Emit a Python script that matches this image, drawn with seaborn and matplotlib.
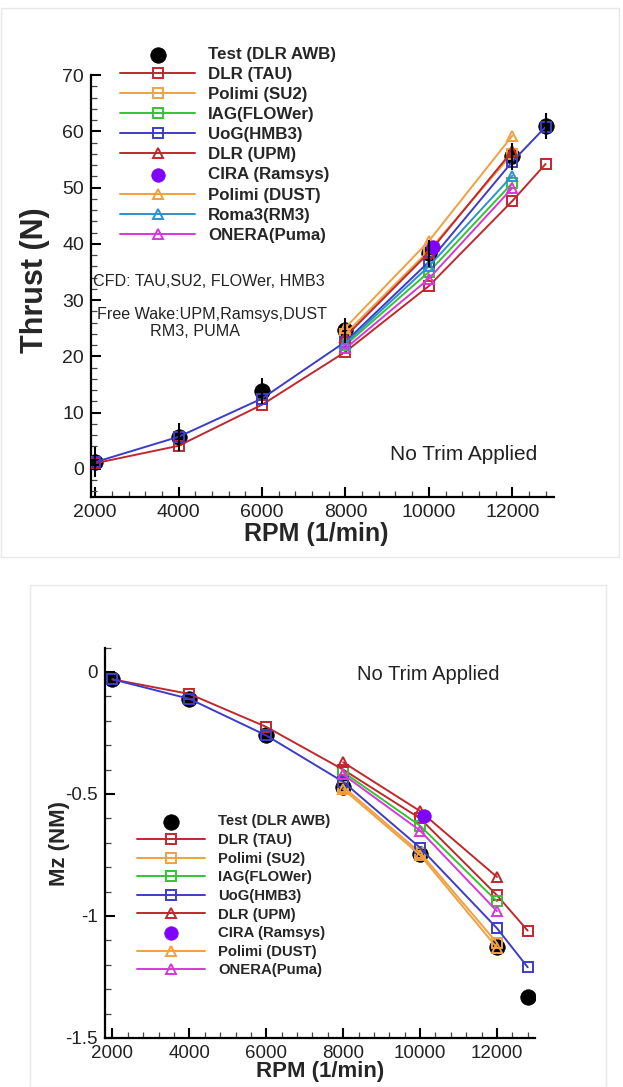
import numpy as np
import pandas as pd
import matplotlib
matplotlib.use("Agg")
import matplotlib.pyplot as plt
import seaborn as sns
from matplotlib.ticker import MultipleLocator, FixedLocator
from matplotlib.patches import Rectangle

# ---------------- data ----------------
rpm_all = [2000, 4000, 6000, 8000, 10000, 12000, 12800]
rpm_hi = [8000, 10000, 12000]
rpm_cira = [10100]

# Thrust (N)
thrust_test = [1.2, 5.7, 13.9, 24.6, 38.3, 55.6, 60.9]
thrust_test_err = [2.6, 2.5, 2.3, 2.2, 2.4, 2.4, 2.3]
thrust_tau = [1.0, 4.1, 11.4, 20.8, 32.5, 47.6, 54.2]
thrust_su2 = [24.0, 38.8, 56.0]
thrust_iag = [22.0, 35.0, 50.8]
thrust_uog = [1.2, 5.7, 12.5, 22.6, 36.8, 54.6, 60.8]
thrust_upm = [23.5, 38.4, 56.5]
thrust_cira = [39.5]
thrust_dust = [25.1, 40.5, 59.2]
thrust_rm3 = [22.3, 36.0, 52.1]
thrust_onera = [21.4, 33.8, 49.9]

# Mz (NM)
mz_test = [-0.03, -0.11, -0.26, -0.47, -0.745, -1.125, -1.33]
mz_tau = [-0.03, -0.09, -0.225, -0.40, -0.60, -0.915, -1.06]
mz_su2 = [-0.47, -0.74, -1.11]
mz_iag = [-0.41, -0.63, -0.94]
mz_uog = [-0.03, -0.11, -0.26, -0.45, -0.72, -1.05, -1.21]
mz_upm = [-0.37, -0.57, -0.84]
mz_cira = [-0.59]
mz_dust = [-0.48, -0.75, -1.13]
mz_onera = [-0.42, -0.65, -0.98]

labels_top = ["Test (DLR AWB)", "DLR (TAU)", "Polimi (SU2)", "IAG(FLOWer)", "UoG(HMB3)",
              "DLR (UPM)", "CIRA (Ramsys)", "Polimi (DUST)", "Roma3(RM3)", "ONERA(Puma)"]
labels_bot = ["Test (DLR AWB)", "DLR (TAU)", "Polimi (SU2)", "IAG(FLOWer)", "UoG(HMB3)",
              "DLR (UPM)", "CIRA (Ramsys)", "Polimi (DUST)", "ONERA(Puma)"]
xtick_vals = [2000, 4000, 6000, 8000, 10000, 12000]

C_DLR = "#c0282e"
C_POL = "#f0a040"
C_IAG = "#33c433"
C_UOG = "#3c3cc8"
C_CIRA = "#8000ff"
C_RM3 = "#2a92d0"
C_ONE = "#d838d8"

# ---------------- style ----------------
sns.set_style("ticks")
plt.rcParams["font.family"] = ["Liberation Sans", "DejaVu Sans"]

W, H = 623, 1087
fig = plt.figure(figsize=(W / 100, H / 100), dpi=100)
fig.patch.set_facecolor("white")


def rect(l, r, t, b):
    return [l / W, 1 - b / H, (r - l) / W, (b - t) / H]


# faint panel frames
fig.add_artist(Rectangle((1 / W, 1 - 557 / H), 618 / W, 549 / H, transform=fig.transFigure,
                         fill=False, edgecolor="#e8e8e8", linewidth=1))
fig.add_artist(Rectangle((30 / W, 0), 576 / W, 1 - 585 / H, transform=fig.transFigure,
                         fill=False, edgecolor="#e8e8e8", linewidth=1))

ax1 = fig.add_axes(rect(91, 554, 75, 497))
ax2 = fig.add_axes(rect(104.8, 535.4, 647.6, 1038))


def series(ax, x, y, color, marker, label):
    sns.lineplot(x=x, y=y, ax=ax, color=color, marker=marker, markersize=7,
                 markerfacecolor="none", markeredgecolor=color, markeredgewidth=1.4,
                 linewidth=1.4, sort=False, errorbar=None, legend=False, zorder=3)
    ln = ax.lines[-1]
    ln.set_label(label)
    return ln


def dots(ax, x, y, color, size, label, z=2):
    sns.scatterplot(x=x, y=y, ax=ax, color=color, s=size, edgecolor=color,
                    linewidth=0.5, legend=False, zorder=z)
    pc = ax.collections[-1]
    pc.set_label(label)
    return pc


# ---------------- top: thrust ----------------
h = []
h.append(dots(ax1, rpm_all, thrust_test, "black", 125, labels_top[0]))
ax1.errorbar(rpm_all, thrust_test, yerr=thrust_test_err, fmt="none", ecolor="black",
             elinewidth=1.5, capsize=0, zorder=5)
h.append(series(ax1, rpm_all, thrust_tau, C_DLR, "s", labels_top[1]))
h.append(series(ax1, rpm_hi, thrust_su2, C_POL, "s", labels_top[2]))
h.append(series(ax1, rpm_hi, thrust_iag, C_IAG, "s", labels_top[3]))
h.append(series(ax1, rpm_all, thrust_uog, C_UOG, "s", labels_top[4]))
h.append(series(ax1, rpm_hi, thrust_upm, C_DLR, "^", labels_top[5]))
h.append(dots(ax1, rpm_cira, thrust_cira, C_CIRA, 95, labels_top[6], z=4))
h.append(series(ax1, rpm_hi, thrust_dust, C_POL, "^", labels_top[7]))
h.append(series(ax1, rpm_hi, thrust_rm3, C_RM3, "^", labels_top[8]))
h.append(series(ax1, rpm_hi, thrust_onera, C_ONE, "^", labels_top[9]))

ax1.set_xlim(1900, 13000)
ax1.set_ylim(-5, 70)
ax1.xaxis.set_major_locator(FixedLocator(xtick_vals))
ax1.xaxis.set_minor_locator(MultipleLocator(400))
ax1.yaxis.set_major_locator(FixedLocator([0, 10, 20, 30, 40, 50, 60, 70]))
ax1.yaxis.set_minor_locator(MultipleLocator(2))

ax1.legend(h, labels_top, loc="upper left",
           bbox_to_anchor=((120 - 91) / 463, (497 - 47) / 422),
           frameon=False, borderpad=0, borderaxespad=0, handlelength=4.44,
           handletextpad=0.77, labelspacing=0.30, scatterpoints=1,
           prop={"weight": "bold", "size": 12.2})

ax1.text((93 - 91) / 463, (497 - 282) / 422, "CFD: TAU,SU2, FLOWer, HMB3",
         transform=ax1.transAxes, fontsize=11.6, va="center", ha="left", color="#222222")
ax1.text((97 - 91) / 463, (497 - 315) / 422, "Free Wake:UPM,Ramsys,DUST",
         transform=ax1.transAxes, fontsize=11.6, va="center", ha="left", color="#222222")
ax1.text((150 - 91) / 463, (497 - 331) / 422, "RM3, PUMA",
         transform=ax1.transAxes, fontsize=11.6, va="center", ha="left", color="#222222")
ax1.text((537 - 91) / 463, (497 - 455) / 422, "No Trim Applied",
         transform=ax1.transAxes, fontsize=15, va="center", ha="right", color="#222222")

# ---------------- bottom: Mz ----------------
g = []
g.append(dots(ax2, rpm_all, mz_test, "black", 125, labels_bot[0]))
g.append(series(ax2, rpm_all, mz_tau, C_DLR, "s", labels_bot[1]))
g.append(series(ax2, rpm_hi, mz_su2, C_POL, "s", labels_bot[2]))
g.append(series(ax2, rpm_hi, mz_iag, C_IAG, "s", labels_bot[3]))
g.append(series(ax2, rpm_all, mz_uog, C_UOG, "s", labels_bot[4]))
g.append(series(ax2, rpm_hi, mz_upm, C_DLR, "^", labels_bot[5]))
g.append(dots(ax2, rpm_cira, mz_cira, C_CIRA, 95, labels_bot[6], z=4))
g.append(series(ax2, rpm_hi, mz_dust, C_POL, "^", labels_bot[7]))
g.append(series(ax2, rpm_hi, mz_onera, C_ONE, "^", labels_bot[8]))

ax2.set_xlim(1800, 13000)
ax2.set_ylim(-1.5, 0.1)
ax2.xaxis.set_major_locator(FixedLocator(xtick_vals))
ax2.xaxis.set_minor_locator(MultipleLocator(400))
ax2.yaxis.set_major_locator(FixedLocator([-1.5, -1.0, -0.5, 0.0]))
ax2.set_yticklabels(["-1.5", "-1", "-0.5", "0"])
ax2.yaxis.set_minor_locator(MultipleLocator(0.1))

ax2.legend(g, labels_bot, loc="upper left",
           bbox_to_anchor=((137 - 104.8) / 430.6, (1038 - 814.5) / 390.4),
           frameon=False, borderpad=0, borderaxespad=0, handlelength=4.6,
           handletextpad=0.87, labelspacing=0.31, scatterpoints=1,
           prop={"weight": "bold", "size": 10.7})

ax2.text((500 - 104.8) / 430.6, (1038 - 675) / 390.4, "No Trim Applied",
         transform=ax2.transAxes, fontsize=14.5, va="center", ha="right", color="#222222")

for ax, ls in ((ax1, 14), (ax2, 13.5)):
    sns.despine(ax=ax)
    for s in ("left", "bottom"):
        ax.spines[s].set_linewidth(1.6)
        ax.spines[s].set_color("black")
    ax.tick_params(which="major", direction="in", length=7, width=1.5, labelsize=ls,
                   pad=5, colors="black", labelcolor="#222222")
    ax.tick_params(which="minor", direction="in", length=4, width=0.9, colors="#444444")
    ax.set_xticklabels([str(v) for v in xtick_vals])
    ax.set_xlabel("")
    ax.set_ylabel("")
    ax.set_facecolor("white")

ax1.set_yticklabels([str(v) for v in [0, 10, 20, 30, 40, 50, 60, 70]])

fig.text(35 / W, 1 - 280 / H, "Thrust (N)", rotation=90, fontsize=22, fontweight="bold",
         ha="center", va="center")
fig.text(316 / W, 1 - 534 / H, "RPM (1/min)", fontsize=18, fontweight="bold",
         ha="center", va="center")
fig.text(60 / W, 1 - 843 / H, "Mz (NM)", rotation=90, fontsize=16, fontweight="bold",
         ha="center", va="center")
fig.text(320 / W, 1 - 1071 / H, "RPM (1/min)", fontsize=16, fontweight="bold",
         ha="center", va="center")

fig.savefig("out.png", dpi=100, facecolor="white")
